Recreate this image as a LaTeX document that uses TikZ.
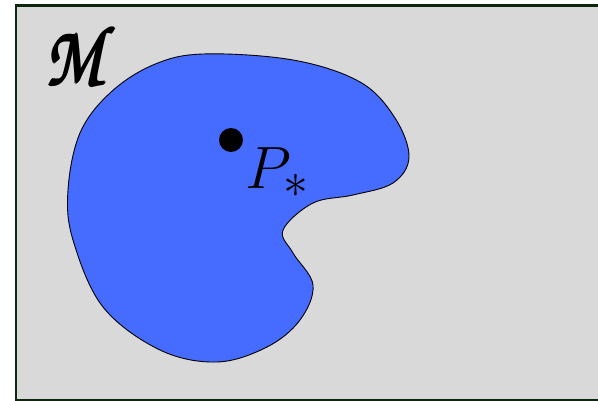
\documentclass[tikz,border=0pt]{standalone}
\usepackage{amsmath}
\definecolor{bggray}{RGB}{217,217,217}
\definecolor{frame}{RGB}{14,38,14}
\definecolor{blobblue}{RGB}{70,108,255}
\tikzset{
  manifold/.style={fill=bggray, draw=frame, line width=2.6pt},
  region/.style={fill=blobblue, draw=black, line width=0.9pt},
  bigdot/.style={circle, fill=black, minimum size=24pt, inner sep=0pt},
  biglabel/.style={inner sep=0pt, scale=2.4, font=\Huge},
  scriptlabel/.style={anchor=base west, inner sep=0pt, xscale=0.8, font=\fontsize{86}{96}\usefont{T1}{pzc}{m}{it}}
}
\begin{document}
\begin{tikzpicture}[x=1pt,y=-1pt]
\useasboundingbox (0,0) rectangle (598,401);
\clip (0,0) rectangle (598,401);
\draw[manifold] (16,5.5) rectangle (640,400);
\draw[region] plot[smooth cycle, tension=0.6] coordinates {
 (203,54) (293,60) (360,82) (395,118) (409,157) (393,183) (353,195)
 (313,203) (283,230) (293,253) (313,285) (300,320) (267,347) (217,362)
 (160,350) (103,307) (73,240) (68,190) (80,133) (110,93) (153,65)};
\node[bigdot] (p) at (231,140) {};
\node[biglabel, anchor=base west] (plab) at (245,189) {$P_*$};
\node[scriptlabel] (mlab) at (44,85.5) {M};
\node[scriptlabel] (mlab2) at (46,85.5) {M};
\node[scriptlabel] (mlab3) at (45,84.3) {M};
\node[scriptlabel] (mlab4) at (45,86.3) {M};
\end{tikzpicture}
\end{document}
